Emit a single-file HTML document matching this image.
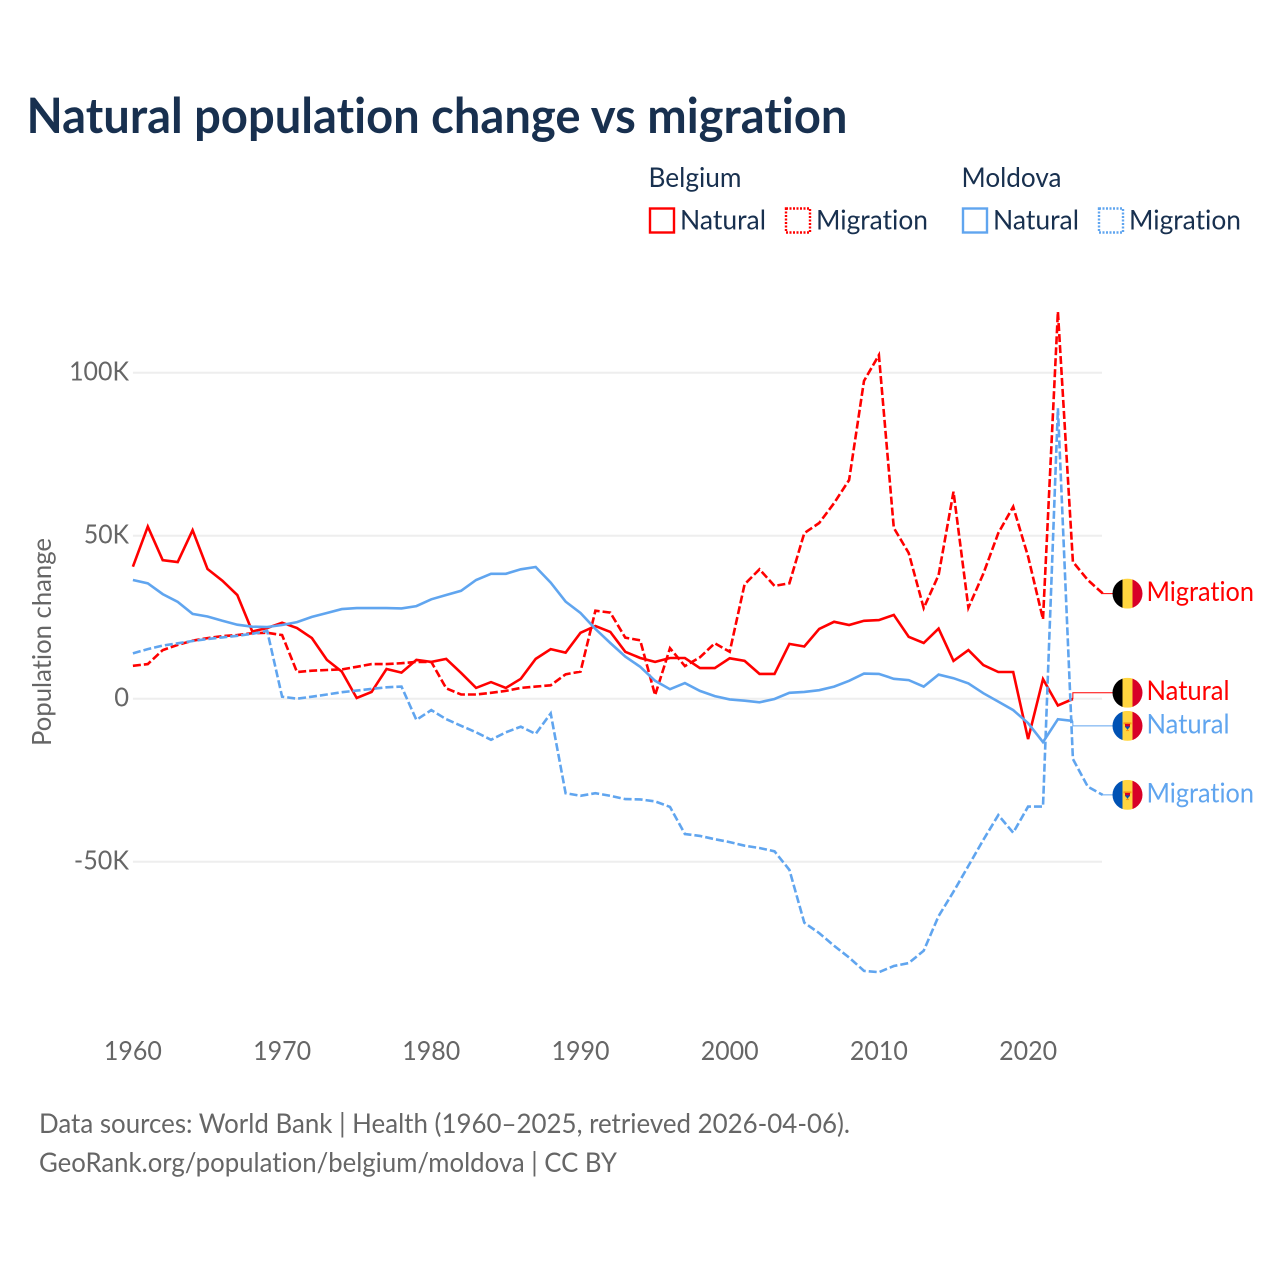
<!DOCTYPE html>
<html lang="en">
<head>
<meta charset="utf-8">
<title>Natural population change vs migration</title>
<style>
html,body{margin:0;padding:0;background:#fff;width:1280px;height:1280px;overflow:hidden}
svg{display:block}
text{font-family:"Lato","Carlito","Liberation Sans",sans-serif;font-variant-ligatures:none;font-feature-settings:"liga" 0,"clig" 0}
</style>
</head>
<body>
<svg id="chart" xmlns="http://www.w3.org/2000/svg" width="1280" height="1280" viewBox="0 0 1280 1280">
  <defs>
    <clipPath id="flag-clip"><circle cx="0" cy="0" r="15"/></clipPath>
  </defs>
  <rect width="1280" height="1280" fill="#fff"/>
  <text x="26.5" y="133" font-size="49" font-weight="700" fill="#18304f" textLength="821" lengthAdjust="spacingAndGlyphs">Natural population change vs migration</text>

  <g font-size="27.5" fill="#18304f">
    <text x="648.5" y="187" textLength="93" lengthAdjust="spacingAndGlyphs">Belgium</text>
    <text x="961.5" y="187" textLength="100" lengthAdjust="spacingAndGlyphs">Moldova</text>
    <rect x="650" y="208.5" width="24" height="24" fill="none" stroke="#ff0000" stroke-width="2.4"/>
    <text x="680" y="229.5" textLength="86" lengthAdjust="spacingAndGlyphs">Natural</text>
    <rect x="786" y="208.5" width="24" height="24" fill="none" stroke="#ff0000" stroke-width="2.4" stroke-dasharray="2 1.5"/>
    <text x="816" y="229.5" textLength="112" lengthAdjust="spacingAndGlyphs">Migration</text>
    <rect x="963" y="208.5" width="24" height="24" fill="none" stroke="#60a5ef" stroke-width="2.4"/>
    <text x="993" y="229.5" textLength="86" lengthAdjust="spacingAndGlyphs">Natural</text>
    <rect x="1099" y="208.5" width="24" height="24" fill="none" stroke="#60a5ef" stroke-width="2.4" stroke-dasharray="2 1.5"/>
    <text x="1129" y="229.5" textLength="112" lengthAdjust="spacingAndGlyphs">Migration</text>
  </g>

  <text transform="translate(51,642) rotate(-90)" text-anchor="middle" font-size="26.5" fill="#666" textLength="208" lengthAdjust="spacingAndGlyphs">Population change</text>

  <g id="grid"></g>
  <g id="y-ticks" font-size="26.5" fill="#666"></g>
  <g id="x-ticks" font-size="26.5" fill="#666"></g>
  <g id="series"></g>
  <g id="labels" font-size="27.5"></g>

  <text x="39" y="1133" font-size="27.5" fill="#666" textLength="811" lengthAdjust="spacingAndGlyphs">Data sources: World Bank | Health (1960–2025, retrieved 2026-04-06).</text>
  <text x="39" y="1172" font-size="27.5" fill="#666" textLength="578" lengthAdjust="spacingAndGlyphs">GeoRank.org/population/belgium/moldova | CC BY</text>
</svg>
<script>
const firstYear = 1960;
const xTickYears = [1960, 1970, 1980, 1990, 2000, 2010, 2020];
const yTickValues = [100, 50, 0, -50];
const yTickLabels = ["100K", "50K", "0", "-50K"];

// values in thousands, one per year from 1960
const belgiumNatural = [40.5,52.8,42.5,41.9,51.7,39.8,36.2,31.8,20.6,21.7,
  23.3,21.7,18.6,11.9,8.3,0.2,2.1,9.1,8.0,11.9,
  11.3,12.2,7.9,3.3,5.1,3.3,6.1,12.2,15.2,14.1,
  20.2,22.3,20.5,14.4,12.5,11.3,12.5,12.5,9.4,9.4,
  12.4,11.6,7.6,7.6,16.8,16.0,21.4,23.6,22.6,23.9,
  24.1,25.7,19.0,17.1,21.5,11.6,14.9,10.3,8.2,8.2,
  -12.4,6.0,-2.1,-0.1];
const belgiumMigration = [10.1,10.6,14.9,16.5,17.8,18.6,19.2,19.5,20.1,20.2,
  19.5,8.2,8.6,8.8,9.0,9.8,10.6,10.6,10.9,11.3,
  11.3,3.2,1.3,1.3,1.8,2.4,3.3,3.7,4.1,7.5,
  8.3,27.0,26.4,18.7,17.9,1.1,15.5,10.0,12.7,17.0,
  14.4,35.1,39.7,34.6,35.4,50.8,53.9,60.0,67.1,97.5,
  105.4,52.4,44.7,27.8,37.9,63.5,27.9,38.3,50.8,58.9,
  43.6,24.4,118.7,42.0,36.4,32.3];
const moldovaNatural = [36.4,35.4,32.1,29.7,26.0,25.2,23.9,22.7,22.1,22.0,
  22.6,23.5,25.1,26.3,27.5,27.8,27.8,27.8,27.7,28.4,
  30.5,31.8,33.1,36.4,38.3,38.3,39.7,40.4,35.6,29.8,
  26.3,21.4,17.1,12.9,9.8,5.5,2.9,4.8,2.4,0.8,
  -0.2,-0.6,-1.1,-0.1,1.8,2.1,2.6,3.7,5.5,7.7,
  7.6,6.1,5.7,3.7,7.4,6.3,4.7,1.7,-0.9,-3.5,
  -7.5,-13.3,-6.3,-6.8];
const moldovaMigration = [13.9,15.2,16.3,17.0,17.7,18.3,18.8,19.3,19.9,20.8,
  0.6,0,0.6,1.3,2.0,2.5,3.0,3.5,3.7,-6.5,
  -3.5,-6.3,-8.3,-10.3,-12.6,-10.3,-8.6,-10.8,-4.5,-29.0,
  -29.8,-29.0,-29.8,-30.8,-30.9,-31.5,-33.2,-41.5,-42.1,-43.1,
  -44.0,-45.1,-45.8,-46.8,-52.5,-68.7,-71.9,-75.8,-79.4,-83.5,
  -83.9,-82.0,-81.1,-77.3,-66.7,-59.2,-51.3,-43.3,-35.7,-41.1,
  -33.1,-33.1,89.1,-18.5,-27.0,-29.5];

const SVGNS = "http://www.w3.org/2000/svg";
const RED = "#ff0000";
const BLUE = "#60a5ef";
const xScale = yr => 132.9 + (yr - 1960) * 14.92;
const yScale = k => 698.7 - k * 3.26;
const make = (tag, attrs) => {
  const el = document.createElementNS(SVGNS, tag);
  for (const key in attrs) el.setAttribute(key, attrs[key]);
  return el;
};
const pts = arr => arr.map((v, i) => xScale(firstYear + i).toFixed(1) + "," + yScale(v).toFixed(1)).join(" ");
const tickWidth = s => s.split("").reduce((w, c) => w + (c === "K" ? 15.5 : c === "-" ? 10 : 14.8), 0);

const gridG = document.getElementById("grid");
const yG = document.getElementById("y-ticks");
yTickValues.forEach((v, i) => {
  const line = make("line", {x1: xScale(1960), x2: 1102, y1: yScale(v), y2: yScale(v), stroke: "#eeeeee", "stroke-width": 2});
  
  
  gridG.appendChild(line);
  const label = make("text", {x: 129, y: yScale(v) + 8, "text-anchor": "end", textLength: tickWidth(yTickLabels[i]), lengthAdjust: "spacingAndGlyphs"});
  
  
  label.textContent = yTickLabels[i];
  yG.appendChild(label);
});

const xG = document.getElementById("x-ticks");
xTickYears.forEach(yr => {
  const label = make("text", {x: xScale(yr), y: 1060, "text-anchor": "middle", textLength: 58, lengthAdjust: "spacingAndGlyphs"});
  
  
  label.textContent = yr;
  xG.appendChild(label);
});

const seriesG = document.getElementById("series");
const addLine = (arr, color, dashed, name) => {
  const line = make("polyline", {points: pts(arr), fill: "none", stroke: color, "stroke-width": 2.6, "stroke-linejoin": "miter", "stroke-dasharray": dashed ? "8 3" : "none"});
  
  
  seriesG.appendChild(line);
};
addLine(belgiumNatural, RED, false, "line-belgium-natural");
addLine(belgiumMigration, RED, true, "line-belgium-migration");
addLine(moldovaNatural, BLUE, false, "line-moldova-natural");
addLine(moldovaMigration, BLUE, true, "line-moldova-migration");

const labelsG = document.getElementById("labels");
const addFlag = (parent, cy, country) => {
  const g = make("g", {transform: "translate(1127.5," + cy + ")", "clip-path": "url(#flag-clip)"});
  
  
  const colours = country === "belgium" ? ["#000000", "#ffd53f", "#d80027"] : ["#0052b4", "#ffd53f", "#d80027"];
  colours.forEach((c, i) => g.appendChild(make("rect", {x: -15 + i * 10, y: -15, width: 10.2, height: 30, fill: c})));
  if (country === "moldova") {
    g.appendChild(make("rect", {x: -4, y: -3.5, width: 8, height: 2, fill: "#ff9811"}));
    g.appendChild(make("rect", {x: -2.5, y: -2, width: 5, height: 3.5, fill: "#d80027"}));
    g.appendChild(make("path", {d: "M-2.5 0.5H2.5L0 4Z", fill: "#0052b4"}));
    g.appendChild(make("rect", {x: -1.5, y: 4, width: 3, height: 1.2, fill: "#ff9811"}));
  }
  parent.appendChild(g);
};
const addEndLabel = (arr, color, word, country, labelY) => {
  const lastX = xScale(firstYear + arr.length - 1);
  const lastY = yScale(arr[arr.length - 1]);
  const connector = make("polyline", {points: lastX + "," + lastY + " " + lastX + "," + labelY + " 1113," + labelY, fill: "none", stroke: color, "stroke-width": 1});
  
  
  labelsG.appendChild(connector);
  addFlag(labelsG, labelY, country);
  const text = make("text", {x: 1146.5, y: labelY + 7.5, fill: color, textLength: word === "Migration" ? 107.5 : 83, lengthAdjust: "spacingAndGlyphs"});
  
  
  text.textContent = word;
  labelsG.appendChild(text);
};
addEndLabel(belgiumMigration, RED, "Migration", "belgium", yScale(belgiumMigration[belgiumMigration.length - 1]) + 0.2);
addEndLabel(belgiumNatural, RED, "Natural", "belgium", yScale(belgiumNatural[belgiumNatural.length - 1]) - 6.3);
addEndLabel(moldovaNatural, BLUE, "Natural", "moldova", yScale(moldovaNatural[moldovaNatural.length - 1]) + 5);
addEndLabel(moldovaMigration, BLUE, "Migration", "moldova", yScale(moldovaMigration[moldovaMigration.length - 1]));
</script>
</body>
</html>
